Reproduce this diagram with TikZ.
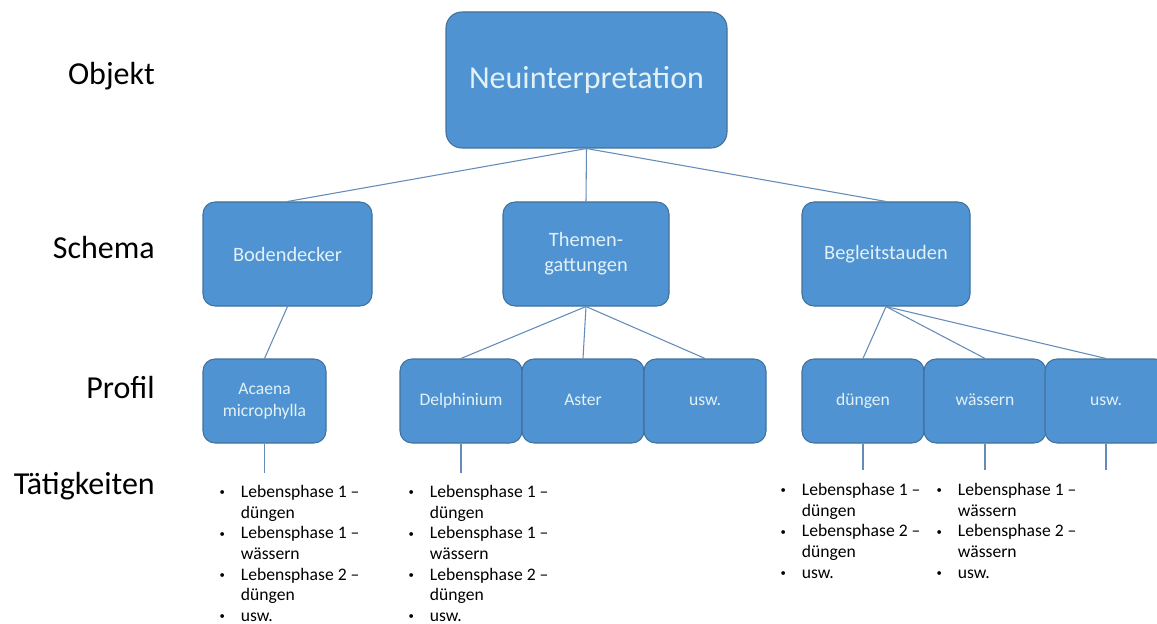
\documentclass[tikz,border=0pt]{standalone}
\usepackage{fontspec}
\setmainfont{Carlito}

\definecolor{boxfill}{RGB}{80,147,210}
\definecolor{boxline}{RGB}{65,113,156}
\definecolor{boxtext}{RGB}{226,241,246}
\definecolor{linkline}{RGB}{100,140,185}

\newcommand{\bul}{\makebox[17pt][l]{\hspace{1pt}\raisebox{1.2pt}{\fontsize{8}{8}\selectfont •}}}
\newcommand{\listind}{\hspace*{17pt}}

\tikzset{
  box/.style={draw=boxline, fill=boxfill, text=boxtext, rounded corners=9pt,
    align=center, inner sep=2pt, line width=0.8pt},
  topbox/.style={box, rounded corners=12pt, minimum width=210.75pt, minimum height=102pt,
    font=\fontsize{24}{28}\selectfont},
  schemabox/.style={box, minimum height=78pt, font=\fontsize{15.3}{19}\selectfont},
  profilbox/.style={box, minimum width=91.5pt, minimum height=63pt,
    font=\fontsize{13.2}{16.5}\selectfont},
  link/.style={draw=linkline, line width=0.8pt},
  rowname/.style={anchor=base east, inner sep=0pt, font=\fontsize{24}{28}\selectfont},
  tasks/.style={anchor=north west, inner sep=0pt, align=left,
    font=\fontsize{13.2}{15.5}\selectfont}
}

\begin{document}
\begin{tikzpicture}[x=0.75pt, y=-0.75pt]

  \useasboundingbox[fill=white] (0,0) rectangle (1157,624);

  \node[rowname] (objekt) at (155,85) {Objekt};
  \node[rowname] (schema) at (155,258) {Schema};
  \node[rowname] (profil) at (155,398) {Profil};
  \node[rowname] (taetig) at (155,494) {Tätigkeiten};

  \node[topbox] (neu) at (586.5,80) {Neuinterpretation};

  \node[schemabox, minimum width=126.75pt] (boden) at (287.5,254) {Bodendecker};
  \node[schemabox, minimum width=124.5pt] (themen) at (586,254) {Themen-\\gattungen};
  \node[schemabox, minimum width=126pt] (begleit) at (886,254) {Begleitstauden};

  \node[profilbox, minimum width=92.25pt] (acaena) at (264.5,401) {Acaena\\microphylla};
  \node[profilbox] (delph) at (461,401) {\strut Delphinium};
  \node[profilbox] (aster) at (583,401) {\strut Aster};
  \node[profilbox] (uswa) at (705,401) {\strut usw.};
  \node[profilbox] (dueng) at (863,401) {\strut düngen};
  \node[profilbox] (waess) at (985,401) {\strut wässern};
  \node[profilbox] (uswb) at (1106,401) {\strut usw.};

  \draw[link] (neu.south) -- (boden.north);
  \draw[link] (neu.south) -- (themen.north);
  \draw[link] (neu.south) -- (begleit.north);

  \draw[link] (boden.south) -- (acaena.north);
  \draw[link] (themen.south) -- (delph.north);
  \draw[link] (themen.south) -- (aster.north);
  \draw[link] (themen.south) -- (uswa.north);
  \draw[link] (begleit.south) -- (dueng.north);
  \draw[link] (begleit.south) -- (waess.north);
  \draw[link] (begleit.south) -- (uswb.north);

  \coordinate (enda) at (264.5,473);
  \coordinate (endb) at (461,473);
  \coordinate (endc) at (863,470);
  \coordinate (endd) at (985,470);
  \coordinate (ende) at (1106,470);

  \draw[link] (acaena.south) -- (enda);
  \draw[link] (delph.south) -- (endb);
  \draw[link] (dueng.south) -- (endc);
  \draw[link] (waess.south) -- (endd);
  \draw[link] (uswb.south) -- (ende);

  \node[tasks] (lista) at (218,485) {\bul Lebensphase 1 –\\\listind düngen\\\bul Lebensphase 1 –\\\listind wässern\\\bul Lebensphase 2 –\\\listind düngen\\\bul usw.};
  \node[tasks] (listb) at (407,485) {\bul Lebensphase 1 –\\\listind düngen\\\bul Lebensphase 1 –\\\listind wässern\\\bul Lebensphase 2 –\\\listind düngen\\\bul usw.};
  \node[tasks] (listc) at (779,483) {\bul Lebensphase 1 –\\\listind düngen\\\bul Lebensphase 2 –\\\listind düngen\\\bul usw.};
  \node[tasks] (listd) at (935,483) {\bul Lebensphase 1 –\\\listind wässern\\\bul Lebensphase 2 –\\\listind wässern\\\bul usw.};

\end{tikzpicture}
\end{document}
